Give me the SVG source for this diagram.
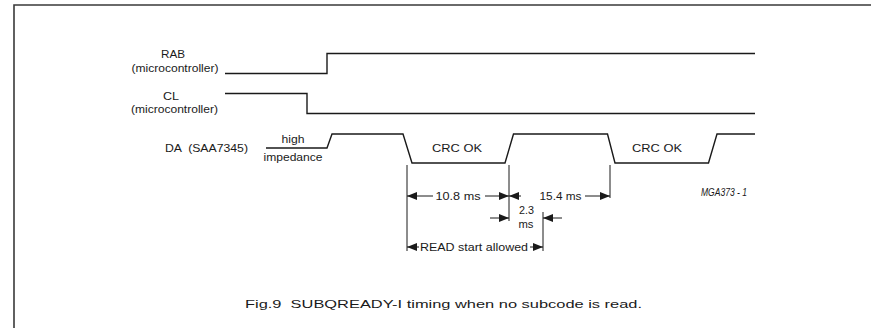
<svg xmlns="http://www.w3.org/2000/svg" width="871" height="328" viewBox="0 0 871 328">
<defs>
<style>
text{font-family:"Liberation Sans",Arial,sans-serif;font-size:11px;fill:#1a1a1a;white-space:pre}
.sig{fill:none;stroke:#1a1a1a;stroke-width:1.4}
.dim{fill:none;stroke:#1a1a1a;stroke-width:1}
.frame{fill:none;stroke:#3a3a3a;stroke-width:1.6}
</style>
<marker id="ah" viewBox="0 0 10 8" refX="10" refY="4" markerWidth="10" markerHeight="8" markerUnits="userSpaceOnUse" orient="auto">
<path d="M0,0 L10,4 L0,8 Z" fill="#1a1a1a"/>
</marker>
</defs>
<rect width="871" height="328" fill="#fff"/>
<path class="frame" d="M14,328 V5 H871"/>

<g id="rab">
<text x="173" y="58" text-anchor="middle" textLength="24" lengthAdjust="spacingAndGlyphs">RAB</text>
<text x="175" y="72" text-anchor="middle" textLength="87" lengthAdjust="spacingAndGlyphs">(microcontroller)</text>
<path class="sig" d="M225,73.5 H327 V53.5 H755"/>
</g>
<g id="cl">
<text x="171" y="100" text-anchor="middle" textLength="16" lengthAdjust="spacingAndGlyphs">CL</text>
<text x="174.5" y="113" text-anchor="middle" textLength="87" lengthAdjust="spacingAndGlyphs">(microcontroller)</text>
<path class="sig" d="M225,93.5 H307 V113.5 H755"/>
</g>
<g id="da">
<text x="165" y="152" textLength="83" lengthAdjust="spacingAndGlyphs">DA  (SAA7345)</text>
<text x="293" y="143" text-anchor="middle" textLength="23" lengthAdjust="spacingAndGlyphs">high</text>
<text x="293" y="161" text-anchor="middle" textLength="59" lengthAdjust="spacingAndGlyphs">impedance</text>
<path class="sig" d="M266,148 H327 L332,134 H403 L412,163 H505 L513.5,134 H607.5 L615,163 H708.5 L717,134 H755"/>
<text x="457" y="152" text-anchor="middle" textLength="50" lengthAdjust="spacingAndGlyphs">CRC OK</text>
<text x="657" y="152" text-anchor="middle" textLength="50" lengthAdjust="spacingAndGlyphs">CRC OK</text>
</g>
<g id="ref">
<text x="747" y="196" text-anchor="end" font-style="italic" font-size="8.5" textLength="46" lengthAdjust="spacingAndGlyphs">MGA373 - 1</text>
</g>

<g id="connectors">
<path class="dim" d="M407,165 V251 M509,165 V221 M610,165 V198 M543,212 V251"/>
<line class="dim" x1="433" y1="196" x2="407" y2="196" marker-end="url(#ah)"/>
<line class="dim" x1="485" y1="196" x2="509" y2="196" marker-end="url(#ah)"/>
<line class="dim" x1="521" y1="196" x2="509" y2="196" marker-end="url(#ah)"/>
<line class="dim" x1="585" y1="196" x2="610" y2="196" marker-end="url(#ah)"/>
<line class="dim" x1="490" y1="218" x2="509" y2="218" marker-end="url(#ah)"/>
<line class="dim" x1="562" y1="218" x2="543" y2="218" marker-end="url(#ah)"/>
<line class="dim" x1="419" y1="247" x2="407" y2="247" marker-end="url(#ah)"/>
<line class="dim" x1="530" y1="247" x2="543" y2="247" marker-end="url(#ah)"/>
</g>
<g id="labels">
<text x="458" y="200" text-anchor="middle" textLength="45" lengthAdjust="spacingAndGlyphs">10.8 ms</text>
<text x="560.5" y="200" text-anchor="middle" textLength="42" lengthAdjust="spacingAndGlyphs">15.4 ms</text>
<text x="526.5" y="214" text-anchor="middle" textLength="15" lengthAdjust="spacingAndGlyphs">2.3</text>
<text x="526" y="228" text-anchor="middle" textLength="15" lengthAdjust="spacingAndGlyphs">ms</text>
<text x="474" y="251" text-anchor="middle" textLength="108" lengthAdjust="spacingAndGlyphs">READ start allowed</text>
</g>
<g id="caption">
<text x="245" y="308" font-size="12" textLength="397" lengthAdjust="spacingAndGlyphs">Fig.9  SUBQREADY-I timing when no subcode is read.</text>
</g>
</svg>
